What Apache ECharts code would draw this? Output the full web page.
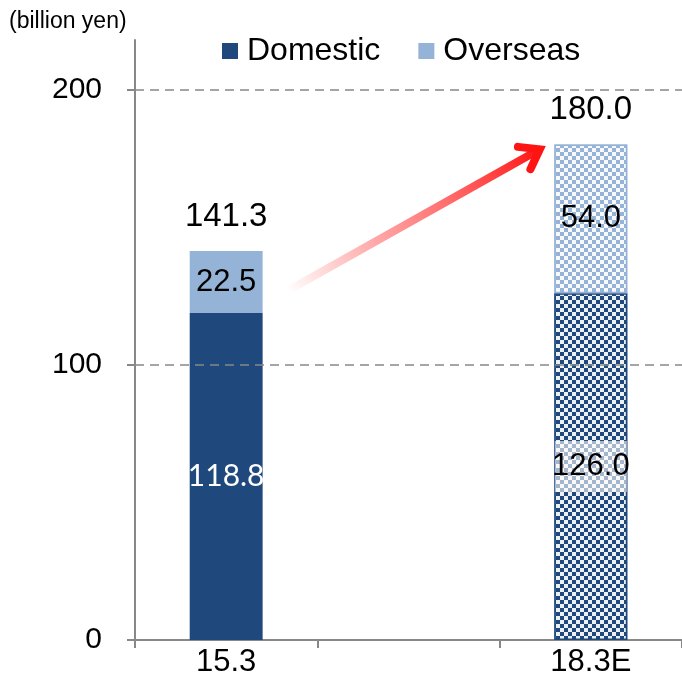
<!DOCTYPE html>
<html>
<head>
<meta charset="utf-8">
<script src="https://cdn.jsdelivr.net/npm/echarts@6/dist/echarts.min.js"></script>
<style>
  html, body { margin: 0; padding: 0; background: #fff; }
  #chart { width: 682px; height: 688px; }
</style>
</head>
<body>
<div id="chart"></div>
<script>
// Net sales by region (billion yen): actual FY15.3 vs. plan FY18.3E
const categories = ['15.3', '', '18.3E'];
const domestic = [118.8, null, 126.0];
const overseas = [22.5, null, 54.0];
const yTicks = [0, 100, 200];
const gridLevels = [100, 200];
const unitLabel = '(billion yen)';
const seriesNames = ['Domestic', 'Overseas'];

const totals = domestic.map((d, i) => (d == null ? null : +(d + overseas[i]).toFixed(1)));

const DARK = '#1F497D';
const LIGHT = '#95B3D7';
const FONT = '"Liberation Sans", Arial, sans-serif';

// checkerboard fill used for the forecast bar
function checker(color) {
  return {
    color: color,
    symbol: 'rect',
    symbolSize: 1,
    dashArrayX: [[4, 4], [0, 4, 4, 0]],
    dashArrayY: [4, 0],
    rotation: 0
  };
}

const domesticData = domestic.map((v, i) => {
  if (v == null) return null;
  if (i === 2) {
    return {
      value: v,
      itemStyle: { color: DARK, borderColor: DARK, borderWidth: 1.5, decal: checker('rgba(255,255,255,0.92)') },
      label: {
        color: '#000', fontFamily: FONT, fontSize: 31,
        backgroundColor: 'rgba(255,255,255,0.6)',
        width: 72, align: 'center', padding: [11, 0, 9, 0]
      }
    };
  }
  return v;
});

const overseasData = overseas.map((v, i) => {
  if (v == null) return null;
  if (i === 2) {
    return {
      value: v,
      itemStyle: { color: LIGHT, borderColor: LIGHT, borderWidth: 1.5, decal: checker('rgba(255,255,255,0.92)') }
    };
  }
  return v;
});

const chart = echarts.init(document.getElementById('chart'), null, { renderer: 'canvas' });

chart.setOption({
  animation: false,
  backgroundColor: '#fff',
  title: {
    text: unitLabel,
    left: 4, top: 5,
    textStyle: { fontFamily: FONT, fontSize: 23, fontWeight: 'normal', color: '#000' }
  },
  legend: {
    data: seriesNames,
    left: 217, top: 30,
    icon: 'rect',
    itemWidth: 16, itemHeight: 16,
    itemGap: 38,
    textStyle: { fontFamily: FONT, fontSize: 32, color: '#000', padding: [0, 0, 0, 4] }
  },
  grid: { left: 135, right: -5, top: 40, bottom: 48, containLabel: false },
  xAxis: {
    type: 'category',
    data: categories,
    axisLine: { lineStyle: { color: '#888', width: 2 } },
    axisTick: { show: true, length: 8, lineStyle: { color: '#888', width: 2 } },
    axisLabel: { fontFamily: FONT, fontSize: 31, color: '#000', margin: 7 }
  },
  yAxis: {
    type: 'value',
    min: 0, max: 218, interval: 100,
    axisLine: { show: true, lineStyle: { color: '#888', width: 2 } },
    axisTick: { show: true, length: 8, customValues: yTicks, lineStyle: { color: '#888', width: 2 } },
    axisLabel: { customValues: yTicks, fontFamily: FONT, fontSize: 30, color: '#000', margin: 33 },
    splitLine: { show: false }
  },
  series: [
    {
      name: seriesNames[0],
      type: 'bar',
      stack: 'total',
      barWidth: '40%',
      itemStyle: { color: DARK },
      data: domesticData,
      label: {
        show: true, position: 'inside',
        fontFamily: 'Lato, "Open Sans", sans-serif', fontSize: 30, color: '#fff',
        formatter: p => p.value.toFixed(1)
      },
      markLine: {
        silent: true,
        symbol: 'none',
        label: { show: false },
        lineStyle: { color: '#888', width: 1.5, type: [9, 6] },
        data: gridLevels.map(v => ({ yAxis: v }))
      },
      z: 3
    },
    {
      name: seriesNames[1],
      type: 'bar',
      stack: 'total',
      barWidth: '40%',
      itemStyle: { color: LIGHT },
      data: overseasData,
      label: {
        show: true, position: 'inside',
        fontFamily: FONT, fontSize: 31, color: '#000',
        formatter: p => p.value.toFixed(1)
      },
      z: 3
    },
    {
      name: 'total',
      type: 'scatter',
      symbolSize: 0,
      itemStyle: { opacity: 1 },
      data: totals,
      label: {
        show: true, position: 'top', distance: 18,
        fontFamily: FONT, fontSize: 33, color: '#000',
        formatter: p => p.value.toFixed(1)
      },
      z: 4
    }
  ]
});

// growth arrow from the 15.3 bar towards the 18.3E total
function drawArrow() {
  const p0 = chart.convertToPixel({ gridIndex: 0 }, [0, 127]);
  const p1 = chart.convertToPixel({ gridIndex: 0 }, [1, 127]);
  const bw = p1[0] - p0[0];
  const tipRef = chart.convertToPixel({ gridIndex: 0 }, [2, 178.3]);
  const sx = p0[0] + 0.34 * bw, sy = p0[1];
  const ex = tipRef[0] - 0.28 * bw, ey = tipRef[1];
  const dx = ex - sx, dy = ey - sy;
  const len = Math.hypot(dx, dy);
  const ux = dx / len, uy = dy / len;
  const arm = 22, ang = 0.62;
  const rot = (x, y, a) => [x * Math.cos(a) - y * Math.sin(a), x * Math.sin(a) + y * Math.cos(a)];
  const b1 = rot(-ux, -uy, ang), b2 = rot(-ux, -uy, -ang);
  const grad = {
    type: 'linear', global: true,
    x: sx, y: sy, x2: ex, y2: ey,
    colorStops: [
      { offset: 0, color: 'rgba(255,40,40,0.0)' },
      { offset: 0.35, color: 'rgba(255,60,60,0.45)' },
      { offset: 1, color: 'rgba(255,20,20,1)' }
    ]
  };
  chart.setOption({
    graphic: [
      {
        type: 'line', z: 10, silent: true,
        shape: { x1: sx, y1: sy, x2: ex - ux * 4, y2: ey - uy * 4 },
        style: { stroke: grad, lineWidth: 8, lineCap: 'round' }
      },
      {
        type: 'polyline', z: 10, silent: true,
        shape: {
          points: [
            [ex + b1[0] * arm, ey + b1[1] * arm],
            [ex, ey],
            [ex + b2[0] * arm, ey + b2[1] * arm]
          ]
        },
        style: { stroke: '#ff1414', fill: null, lineWidth: 8, lineCap: 'round', lineJoin: 'miter' }
      }
    ]
  });
}
drawArrow();
</script>
</body>
</html>
